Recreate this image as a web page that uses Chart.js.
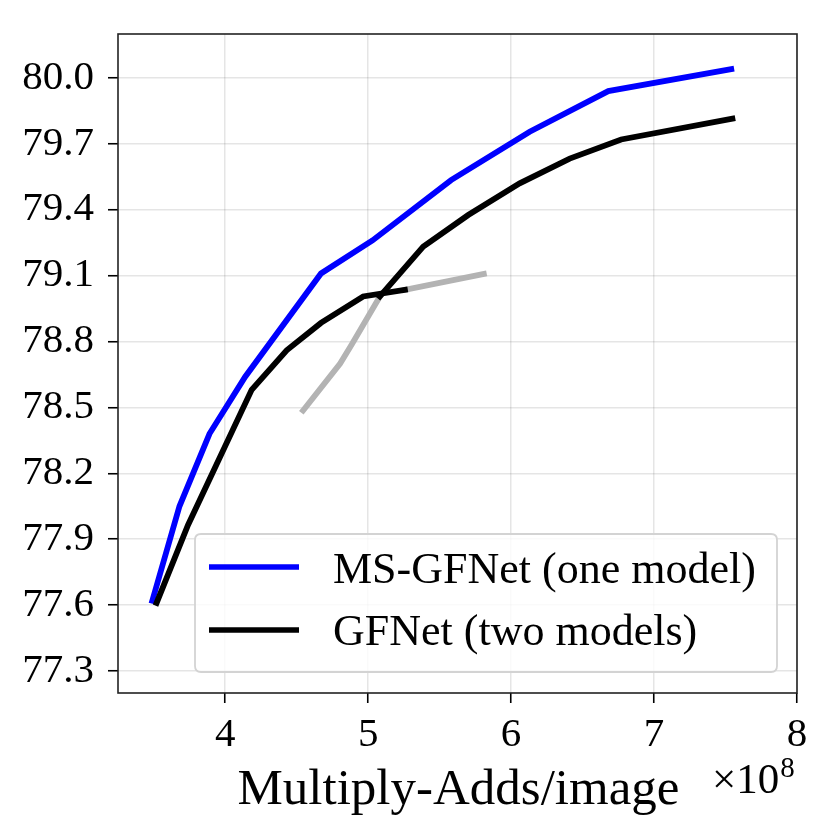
<!DOCTYPE html>
<html>
<head>
<meta charset="utf-8">
<script src="https://cdn.jsdelivr.net/npm/chart.js@4/dist/chart.umd.min.js"></script>
<style>
  html, body { margin: 0; padding: 0; background: #fff; }
  #wrap { width: 832px; height: 839px; }
</style>
</head>
<body>
<div id="wrap"><canvas id="c" width="832" height="839"></canvas></div>
<script>
// ---- data (x in units of 1e8 Multiply-Adds/image, y = accuracy %) ----
const msX = [3.49, 3.68, 3.89, 4.14, 4.67, 5.03, 5.58, 6.13, 6.68, 7.54];
const msY = [77.62, 78.05, 78.38, 78.64, 79.11, 79.26, 79.535, 79.755, 79.94, 80.04];

const gfAX = [3.52, 3.74, 4.185, 4.43, 4.67, 4.965, 5.257];
const gfAY = [77.61, 77.965, 78.58, 78.76, 78.885, 79.005, 79.035];

const gfBX = [5.082, 5.385, 5.70, 6.06, 6.41, 6.77, 7.548];
const gfBY = [79.005, 79.232, 79.376, 79.52, 79.633, 79.72, 79.815];

const grayAX = [5.257, 5.809];
const grayAY = [79.035, 79.108];

const grayBX = [4.545, 4.804, 4.884, 5.082];
const grayBY = [78.486, 78.70, 78.785, 79.005];

const xTicks = [4, 5, 6, 7, 8];
const yTicks = [77.3, 77.6, 77.9, 78.2, 78.5, 78.8, 79.1, 79.4, 79.7, 80.0];

const labelMS = 'MS-GFNet (one model)';
const labelGF = 'GFNet (two models)';
const xTitle = 'Multiply-Adds/image';

const pts = (xs, ys) => xs.map((x, i) => ({ x: x, y: ys[i] }));

const FONT = "'Liberation Serif', 'DejaVu Serif', serif";

const frameAndText = {
  id: 'frameAndText',
  afterDraw(chart) {
    const ctx = chart.ctx;
    const a = chart.chartArea;
    ctx.save();
    // frame
    ctx.strokeStyle = '#222';
    ctx.lineWidth = 1.6;
    ctx.strokeRect(a.left, a.top, a.right - a.left, a.bottom - a.top);
    // x title
    ctx.fillStyle = '#000';
    ctx.font = "51px " + FONT;
    ctx.textAlign = 'center';
    ctx.textBaseline = 'alphabetic';
    ctx.fillText(xTitle, 458.5, 804);
    // x10^8 offset text
    ctx.textAlign = 'left';
    ctx.font = "43px " + FONT;
    ctx.fillText('\u00D710', 712, 793);
    const w = ctx.measureText('\u00D710').width;
    ctx.font = "29px " + FONT;
    ctx.fillText('8', 712 + w + 1, 777);

    // legend
    const lx = 195, ly = 534, lw = 582, lh = 138, r = 6;
    ctx.beginPath();
    ctx.moveTo(lx + r, ly);
    ctx.lineTo(lx + lw - r, ly);
    ctx.quadraticCurveTo(lx + lw, ly, lx + lw, ly + r);
    ctx.lineTo(lx + lw, ly + lh - r);
    ctx.quadraticCurveTo(lx + lw, ly + lh, lx + lw - r, ly + lh);
    ctx.lineTo(lx + r, ly + lh);
    ctx.quadraticCurveTo(lx, ly + lh, lx, ly + lh - r);
    ctx.lineTo(lx, ly + r);
    ctx.quadraticCurveTo(lx, ly, lx + r, ly);
    ctx.closePath();
    ctx.fillStyle = 'rgba(255,255,255,0.8)';
    ctx.fill();
    ctx.strokeStyle = '#d3d3d3';
    ctx.lineWidth = 1.8;
    ctx.stroke();

    const items = chart.data.datasets.filter(d => d.showInLegend);
    const rowsY = [567, 630];
    const baseY = [582.5, 645];
    ctx.font = "44px " + FONT;
    ctx.textAlign = 'left';
    ctx.textBaseline = 'alphabetic';
    items.forEach((d, i) => {
      const y = rowsY[i];
      ctx.beginPath();
      ctx.strokeStyle = d.borderColor;
      ctx.lineWidth = 5.5;
      ctx.lineCap = 'butt';
      ctx.moveTo(209, y);
      ctx.lineTo(299, y);
      ctx.stroke();
      ctx.fillStyle = '#000';
      ctx.fillText(d.label, 333, baseY[i]);
    });
    ctx.restore();
  }
};

const common = { showLine: true, pointRadius: 0, pointHoverRadius: 0, borderWidth: 5.8, fill: false, tension: 0, borderCapStyle: 'square', borderJoinStyle: 'miter' };

new Chart(document.getElementById('c'), {
  type: 'scatter',
  data: {
    datasets: [
      Object.assign({ label: labelMS, data: pts(msX, msY), borderColor: '#0000ff', order: 3, showInLegend: true }, common),
      Object.assign({ label: 'gA', data: pts(grayAX, grayAY), borderColor: '#b3b3b3', order: 2 }, common),
      Object.assign({ label: 'gB', data: pts(grayBX, grayBY), borderColor: '#b3b3b3', order: 2 }, common),
      Object.assign({ label: labelGF, data: pts(gfAX, gfAY), borderColor: '#000000', order: 1, showInLegend: true }, common),
      Object.assign({ label: 'gfB', data: pts(gfBX, gfBY), borderColor: '#000000', order: 1 }, common)
    ]
  },
  options: {
    responsive: false,
    animation: false,
    events: [],
    layout: { padding: { top: 34, right: 35, left: 0, bottom: 0 } },
    plugins: { legend: { display: false }, tooltip: { enabled: false } },
    scales: {
      x: {
        type: 'linear', min: 3.25, max: 8,
        afterBuildTicks(s) { s.ticks = xTicks.map(v => ({ value: v })); },
        afterFit(s) { s.height = 146; s.paddingLeft = 0; s.paddingRight = 0; },
        grid: { color: 'rgba(0,0,0,0.1)', lineWidth: 1.5, tickColor: '#000', tickLength: 10, tickWidth: 1.6, drawOnChartArea: true },
        border: { display: false },
        ticks: { color: '#000', font: { family: FONT, size: 41 }, padding: 8, maxRotation: 0, autoSkip: false,
                 callback: v => String(v) }
      },
      y: {
        type: 'linear', min: 77.2, max: 80.2,
        afterBuildTicks(s) { s.ticks = yTicks.map(v => ({ value: v })); },
        afterFit(s) { s.width = 118; s.paddingTop = 0; s.paddingBottom = 0; },
        grid: { color: 'rgba(0,0,0,0.1)', lineWidth: 1.5, tickColor: '#000', tickLength: 10, tickWidth: 1.6 },
        border: { display: false },
        ticks: { color: '#000', font: { family: FONT, size: 41 }, padding: 14, autoSkip: false,
                 callback: v => Number(v).toFixed(1) }
      }
    }
  },
  plugins: [frameAndText]
});
</script>
</body>
</html>
